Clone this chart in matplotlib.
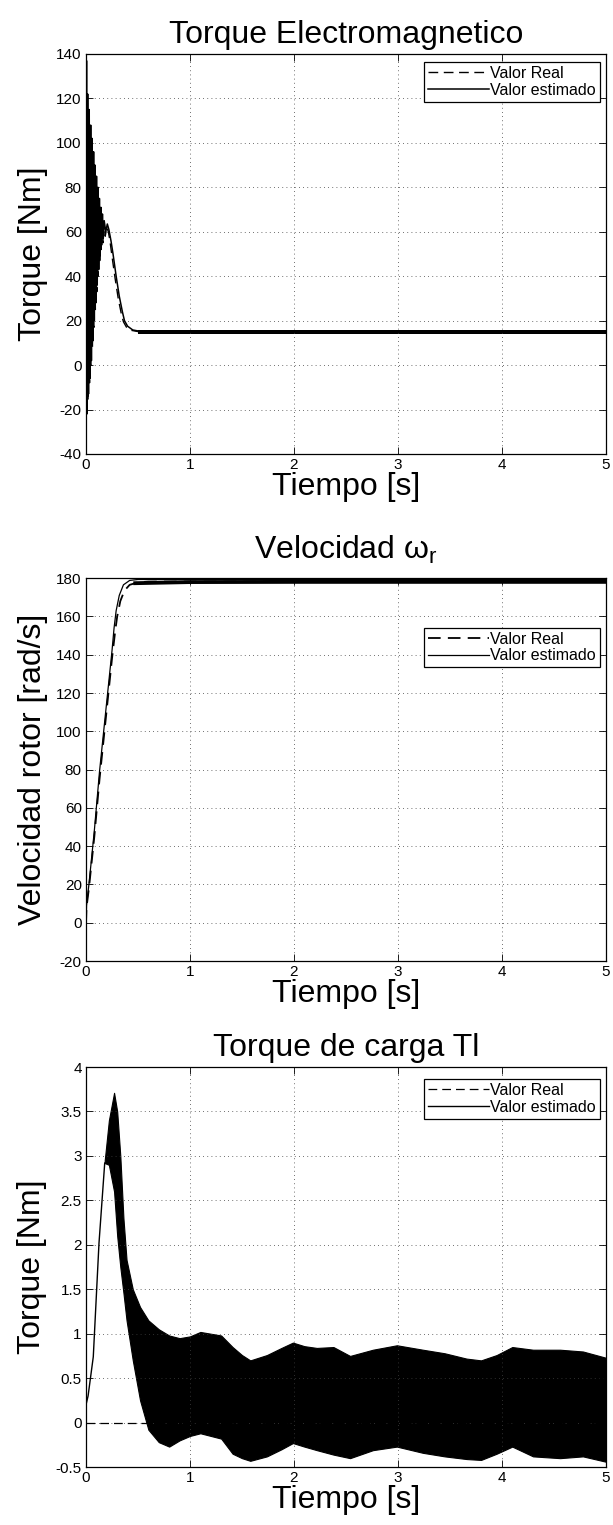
import numpy as np
import matplotlib
matplotlib.use('Agg')
import matplotlib.pyplot as plt
from matplotlib.ticker import FormatStrFormatter

plt.rcParams['font.family'] = ['Liberation Sans', 'DejaVu Sans']
plt.rcParams['mathtext.default'] = 'regular'

###
# torque electromagnetico (arranque oscilante y regimen)
t_te_real = [0, 0.003, 0.007, 0.013, 0.020, 0.027, 0.034, 0.041, 0.048, 0.055, 0.062, 0.069,
             0.076, 0.083, 0.090, 0.097, 0.104, 0.111, 0.118, 0.125, 0.132, 0.139, 0.146,
             0.154, 0.162, 0.172, 0.185, 0.20, 0.215, 0.23, 0.25, 0.28, 0.31, 0.34, 0.36,
             0.39, 0.44, 0.50, 1.0, 5.0]
te_real = [0, 130, -18, 118, -16, 110, -8, 104, 0, 98, 8, 92, 17, 88, 25, 83, 33, 78, 40,
           74, 47, 70, 52, 67, 55, 64, 58, 62, 60, 56, 49, 39, 30, 23, 19.5, 17, 15.6, 15.1,
           15, 15]
t_te_est = [0, 0.005, 0.009, 0.016, 0.024, 0.031, 0.038, 0.045, 0.052, 0.059, 0.066, 0.073,
            0.080, 0.087, 0.094, 0.101, 0.108, 0.115, 0.122, 0.129, 0.136, 0.143, 0.150,
            0.158, 0.166, 0.175, 0.19, 0.205, 0.22, 0.24, 0.26, 0.29, 0.32, 0.35, 0.37,
            0.40, 0.45, 0.52, 1.0, 5.0]
te_est = [0, 137, -22, 122, -13, 115, -6, 108, 2, 102, 11, 96, 20, 90, 28, 85, 36, 80, 43,
          75, 49, 71, 54, 68, 57, 65, 60, 63.5, 61, 56, 50, 40, 31, 24, 20, 17.5, 15.8,
          15.2, 15, 15]
# rizado del torque estimado en regimen
t_te_rip = [0.5, 5.0]
te_rip_lo = [14.2, 14.2]
te_rip_hi = [15.8, 15.8]

# velocidad del rotor
t_w_real = [0, 0.005, 0.03, 0.08, 0.13, 0.17, 0.21, 0.25, 0.28, 0.30, 0.33, 0.37, 0.42,
            0.50, 0.60, 5.0]
w_real = [0, 8, 19, 45, 75, 96, 117, 138, 152, 160, 168, 173.5, 176.5, 177.8, 178.2, 178.2]
t_w_est = [0, 0.005, 0.03, 0.08, 0.13, 0.17, 0.21, 0.25, 0.27, 0.29, 0.32, 0.36, 0.42,
           0.50, 5.0]
w_est = [0, 9, 21, 48, 79, 100, 121, 142, 154, 163, 171, 176.5, 178.8, 179.3, 179.3]
# rizado de la velocidad en regimen
t_w_rip = [0.45, 1.0, 2.0, 3.0, 4.0, 5.0]
w_rip_lo = [176.6, 177.2, 177.3, 177.3, 177.3, 177.3]
w_rip_hi = [178.6, 179.2, 179.3, 179.3, 179.3, 179.3]

# torque de carga
t_tl_real = [0, 5.0]
tl_real = [0, 0]
t_tl_rise = [0, 0.02, 0.07, 0.125, 0.18]
tl_rise = [0.2, 0.3, 0.74, 2.02, 2.92]
t_tl_band = [0.18, 0.22, 0.27, 0.30, 0.33, 0.36, 0.39, 0.45, 0.52, 0.60, 0.70, 0.80, 0.90,
             1.00, 1.10, 1.20, 1.30, 1.41, 1.50, 1.58, 1.74, 1.88, 1.99, 2.10, 2.22, 2.38,
             2.54, 2.76, 2.99, 3.24, 3.45, 3.66, 3.80, 3.95, 4.10, 4.30, 4.56, 4.78, 5.00]
tl_hi = [2.95, 3.40, 3.71, 3.50, 3.00, 2.30, 1.83, 1.50, 1.30, 1.15, 1.05, 0.98, 0.95,
         0.97, 1.02, 1.00, 0.98, 0.85, 0.76, 0.70, 0.76, 0.84, 0.90, 0.86, 0.84, 0.85,
         0.75, 0.82, 0.87, 0.82, 0.78, 0.72, 0.70, 0.76, 0.85, 0.82, 0.82, 0.80, 0.73]
tl_lo = [2.92, 2.90, 2.60, 2.10, 1.75, 1.46, 1.15, 0.70, 0.25, -0.08, -0.22, -0.27, -0.20,
         -0.15, -0.12, -0.15, -0.18, -0.35, -0.40, -0.43, -0.38, -0.30, -0.23, -0.27, -0.31,
         -0.36, -0.40, -0.31, -0.27, -0.34, -0.38, -0.41, -0.42, -0.35, -0.27, -0.38, -0.40,
         -0.38, -0.44]

x_ticks = [0, 1, 2, 3, 4, 5]
labels = ('Valor Real', 'Valor estimado')
DASH = (0, (7, 4))

##############################################################

def style_axes(ax, ylim, yticks, fmt):
    ax.set_xlim(0, 5)
    ax.set_ylim(*ylim)
    ax.set_xticks(x_ticks)
    ax.set_yticks(yticks)
    ax.yaxis.set_major_formatter(FormatStrFormatter(fmt))
    ax.tick_params(direction='in', top=True, right=True, length=5, width=0.6,
                   labelsize=11, pad=3)
    ax.grid(True, color='0.25', linestyle=(0, (1, 4)), linewidth=0.6)
    for s in ax.spines.values():
        s.set_linewidth(0.9)
    ax.set_xlabel('Tiempo [s]', fontsize=23, labelpad=0)


def add_legend(ax, h1, h2, anchor):
    leg = ax.legend((h1, h2), labels, loc='upper right', bbox_to_anchor=anchor,
                    fontsize=11.5, handlelength=3.8, handletextpad=0.1, borderpad=0.25,
                    labelspacing=0.1, borderaxespad=0, fancybox=False, framealpha=1,
                    edgecolor='black')
    leg.get_frame().set_linewidth(0.9)


fig = plt.figure(figsize=(6.13, 15.25), dpi=100)
ax1 = fig.add_axes([0.1403, 0.7023, 0.848, 0.2623])
ax2 = fig.add_axes([0.1403, 0.3698, 0.848, 0.2511])
ax3 = fig.add_axes([0.1403, 0.0380, 0.848, 0.2623])

# Torque electromagnetico
l1, = ax1.plot(t_te_real, te_real, color='black', linestyle=DASH, linewidth=1.0)
l2, = ax1.plot(t_te_est, te_est, color='black', linestyle='-', linewidth=1.1)
ax1.fill_between(t_te_rip, te_rip_lo, te_rip_hi, color='black', linewidth=0)
style_axes(ax1, (-40, 140), np.arange(-40, 141, 20), '%g')
ax1.set_ylabel('Torque [Nm]', fontsize=23, labelpad=6)
ax1.set_title('Torque Electromagnetico', fontsize=23, pad=8)
add_legend(ax1, l1, l2, (0.989, 0.98))

# Velocidad del rotor
l1, = ax2.plot(t_w_real, w_real, color='black', linestyle=DASH, linewidth=1.3)
ax2.fill_between(t_w_rip, w_rip_lo, w_rip_hi, color='black', linewidth=0)
l2, = ax2.plot(t_w_est, w_est, color='black', linestyle='-', linewidth=0.9)
style_axes(ax2, (-20, 180), np.arange(-20, 181, 20), '%g')
ax2.set_ylabel('Velocidad rotor [rad/s]', fontsize=23, labelpad=6)
ax2.set_title('Velocidad ω$_r$', fontsize=23, pad=14)
add_legend(ax2, l1, l2, (0.989, 0.87))

# Torque de carga
l1, = ax3.plot(t_tl_real, tl_real, color='black', linestyle=DASH, linewidth=0.9)
l2, = ax3.plot(t_tl_rise, tl_rise, color='black', linestyle='-', linewidth=1.0)
ax3.fill_between(t_tl_band, tl_lo, tl_hi, color='black', linewidth=0.8, edgecolor='black')
style_axes(ax3, (-0.5, 4), np.arange(-0.5, 4.01, 0.5), '%g')
ax3.set_ylabel('Torque [Nm]', fontsize=23, labelpad=6)
ax3.set_title('Torque de carga Tl', fontsize=23, pad=8)
add_legend(ax3, l1, l2, (0.989, 0.97))

fig.savefig('out.png', dpi=100)
